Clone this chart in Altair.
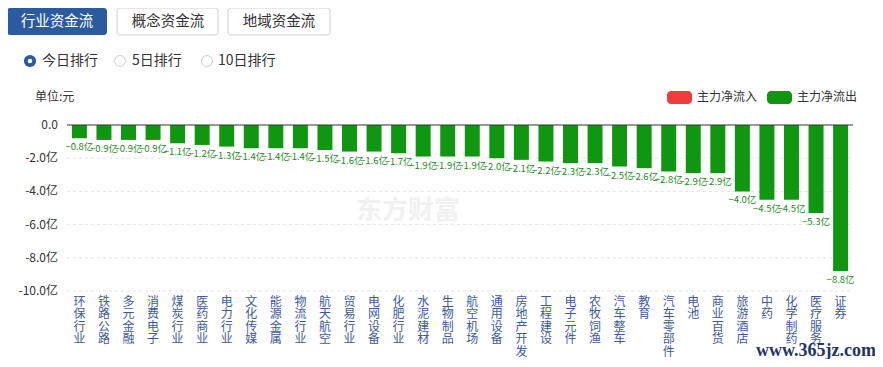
import altair as alt
import pandas as pd

categories = ["环保行业", "铁路公路", "多元金融", "消费电子", "煤炭行业", "医药商业", "电力行业",
              "文化传媒", "能源金属", "物流行业", "航天航空", "贸易行业", "电网设备", "化肥行业",
              "水泥建材", "生物制品", "航空机场", "通用设备", "房地产开发", "工程建设", "电子元件",
              "农牧饲渔", "汽车整车", "教育", "汽车零部件", "电池", "商业百货", "旅游酒店", "中药",
              "化学制药", "医疗服务", "证券"]
values = [-0.8, -0.9, -0.9, -0.9, -1.1, -1.2, -1.3, -1.4, -1.4, -1.4, -1.5, -1.6, -1.6, -1.7,
          -1.9, -1.9, -1.9, -2.0, -2.1, -2.2, -2.3, -2.3, -2.5, -2.6, -2.8, -2.9, -2.9, -4.0,
          -4.5, -4.5, -5.3, -8.8]
y_ticks = [0, -2, -4, -6, -8, -10]
y_tick_labels = ["0.0", "-2.0亿", "-4.0亿", "-6.0亿", "-8.0亿", "-10.0亿"]
tabs = ["行业资金流", "概念资金流", "地域资金流"]
radios = ["今日排行", "5日排行", "10日排行"]
legend_labels = ["主力净流入", "主力净流出"]

FONT = "Noto Sans CJK SC"
GREEN = "#119611"
RED = "#f03c3c"
BLUE = "#2c5a9e"

df = pd.DataFrame({"category": categories, "value": values})
ticks_df = pd.DataFrame({"tick": y_ticks, "tlabel": y_tick_labels})

# plot origin on page
OX, OY = 67, 125
W, H = 786, 166

dummy = alt.Data(values=[{"d": 1}])


def rect(x1, y1, x2, y2, fill, stroke=None, radius=0):
    kw = dict(fill=fill, cornerRadius=radius)
    if stroke:
        kw.update(stroke=stroke, strokeWidth=1)
    return alt.Chart(dummy).mark_rect(**kw).encode(
        x=alt.value(x1 - OX), x2=alt.value(x2 - OX),
        y=alt.value(y1 - OY), y2=alt.value(y2 - OY))


def text(x, y, s, size=12, color="#333", align="left", font=FONT, weight="normal"):
    return alt.Chart(dummy).mark_text(
        text=s, fontSize=size, color=color, align=align, baseline="middle",
        font=font, fontWeight=weight).encode(x=alt.value(x - OX), y=alt.value(y - OY))


def circle(x, y, size, color, filled=True, stroke_w=1):
    if filled:
        m = alt.Chart(dummy).mark_circle(size=size, color=color, opacity=1)
    else:
        m = alt.Chart(dummy).mark_point(shape="circle", size=size, color=color,
                                        strokeWidth=stroke_w, filled=False, opacity=1)
    return m.encode(x=alt.value(x - OX), y=alt.value(y - OY))


yscale = alt.Scale(domain=[-10, 0], nice=False)

xenc = alt.X("category:N", sort=None,
             scale=alt.Scale(paddingInner=0.39, paddingOuter=0.2),
             axis=alt.Axis(title=None, labelAngle=0, domain=False, ticks=False,
                           labelExpr="split(datum.label, '')", labelLineHeight=12.6,
                           labelFontSize=12, labelColor="#3d5a98", labelPadding=5,
                           labelFont=FONT, labelOverlap=False, labelBaseline="top"))
yenc = alt.Y("value:Q", scale=yscale,
             axis=alt.Axis(title=None, ticks=False, labels=False, grid=False,
                           domainColor="#333"))

# grid + y labels from the tick arrays
grid = alt.Chart(ticks_df).transform_filter("datum.tick != 0").mark_rule(
    color="#e4e4e4", strokeDash=[3, 3], strokeWidth=1
).encode(y=alt.Y("tick:Q", scale=yscale, axis=None), x=alt.value(0), x2=alt.value(W))
ylabels = alt.Chart(ticks_df).mark_text(
    align="right", baseline="middle", fontSize=12, color="#333", font=FONT, dx=-9
).encode(y=alt.Y("tick:Q", scale=yscale, axis=None), x=alt.value(0), text="tlabel:N")
zero = alt.Chart(ticks_df).transform_filter("datum.tick == 0").mark_rule(
    color="#333", strokeWidth=1
).encode(y=alt.Y("tick:Q", scale=yscale, axis=None), x=alt.value(0), x2=alt.value(W))

base = alt.Chart(df)
bars = base.mark_bar(color=GREEN).encode(x=xenc, y=yenc)
labels = base.transform_calculate(
    lbl="format(datum.value, '.1f') + '亿'"
).mark_text(color="#1e8a1e", fontSize=9.5, baseline="top", dy=4, font=FONT).encode(
    x=alt.X("category:N", sort=None), y=alt.Y("value:Q"), text="lbl:N")

layers = [
    grid,
    text(408, 211, "东方财富", size=26, color="#f1f1f1", align="center", weight="bold"),
    bars, labels, zero, ylabels,
    # tabs
    rect(7, 8, 107, 35, BLUE, radius=3),
    rect(117, 8, 218, 35, "white", stroke="#cfcfcf", radius=3),
    rect(228, 8, 330, 35, "white", stroke="#cfcfcf", radius=3),
    text(57, 22, tabs[0], size=14.5, color="white", align="center"),
    text(168, 22, tabs[1], size=14.5, color="#333", align="center"),
    text(279, 22, tabs[2], size=14.5, color="#333", align="center"),
    # radios
    circle(30, 61, 150, BLUE),
    circle(30, 61, 20, "white"),
    circle(120, 61, 120, "#cccccc", filled=False),
    circle(207, 61, 120, "#cccccc", filled=False),
    text(42, 61, radios[0], size=14),
    text(132, 61, radios[1], size=14),
    text(218, 61, radios[2], size=14),
    # unit
    text(35, 97, "单位:元", size=12),
    # legend
    rect(667, 91, 692, 104, RED, radius=4),
    text(697, 97, legend_labels[0], size=12),
    rect(767, 91, 792, 104, GREEN, radius=4),
    text(797, 97, legend_labels[1], size=12),
    # site watermark
    text(816, 351, "www.365jz.com", size=18, color="#1f3568", align="center",
         font="Liberation Serif", weight="bold"),
]

chart = alt.layer(*layers).properties(
    width=W, height=H,
    autosize=alt.AutoSizeParams(type="none"),
    padding={"left": 59, "top": 117, "right": 22, "bottom": 68},
    background="white",
).configure_view(stroke=None)

chart.save("out.html", embed_options={"renderer": "svg", "actions": False})
